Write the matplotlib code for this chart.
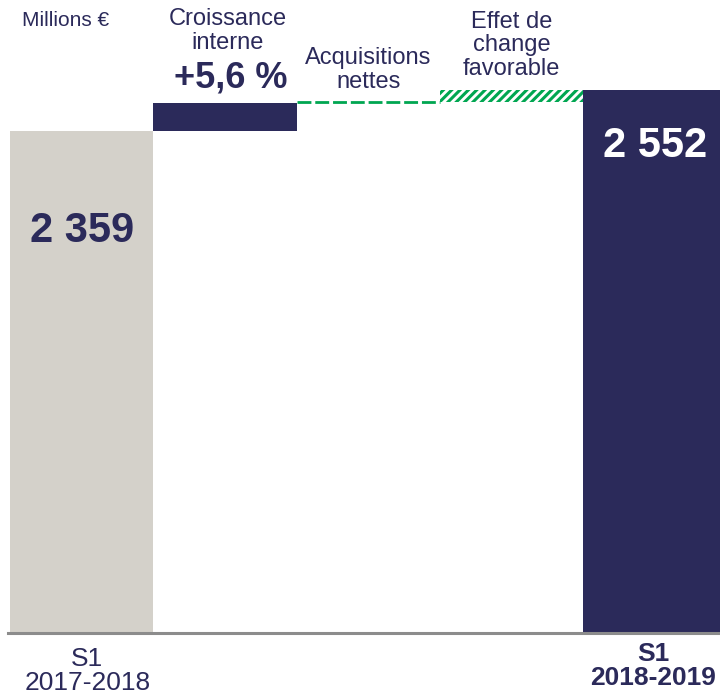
import matplotlib.pyplot as plt
import matplotlib.transforms as mtransforms
import numpy as np

plt.rcParams['font.family'] = ['Liberation Sans', 'DejaVu Sans']
plt.rcParams['hatch.linewidth'] = 2.2

# Data (millions EUR)
start_value = 2359
end_value = 2552
croissance = 132
acquisitions = 6
change = end_value - start_value - croissance - acquisitions

navy = '#2b2a5a'
grey = '#d4d1ca'
green = '#00a651'

fig = plt.figure(figsize=(7.2, 6.97), dpi=100)
ax = fig.add_axes([8/720, 64/697, 712/720, 633/697])

ind = np.arange(5)
width = 1.0
px_unit = 143.3

# first and last totals
ax.bar(ind[0], start_value, width, color=grey, linewidth=0)
ax.bar(ind[4], end_value, width, color=navy, linewidth=0)

# internal growth
ax.bar(ind[1], croissance, width, bottom=start_value, color=navy, linewidth=0)

# acquisitions: thin dashed line
acq_level = start_value + croissance + acquisitions / 2
ax.hlines(acq_level, ind[2] - width/2, ind[2] + width/2, colors=green,
          linewidth=2, linestyles=(0, (5, 1.4)))

# exchange effect, hatched
ax.bar(ind[3], change, width, bottom=start_value + croissance + acquisitions,
       facecolor='white', edgecolor=green, hatch='////', linewidth=0)

ax.set_xlim(-0.5 - 2/px_unit, -0.5 + 710/px_unit)
ax.set_ylim(0, 2975)
for s in ['top', 'right', 'left']:
    ax.spines[s].set_visible(False)
ax.spines['bottom'].set_color('#8c8c8c')
ax.spines['bottom'].set_linewidth(2.2)
ax.set_xticks([])
ax.set_yticks([])

# value labels inside the total bars
ax.text(ind[0], start_value * 0.8, '2 359', ha='center', va='center',
        fontsize=30, fontweight='bold', color=navy)
ax.text(ind[4], end_value - 262, '2 552', ha='center', va='center',
        fontsize=30, fontweight='bold', color='white')

# labels at the top
trans = mtransforms.blended_transform_factory(ax.transData, fig.transFigure)
H = 697.0
fig.text(22/720, 1 - 20/H, 'Millions €', ha='left', va='center',
         fontsize=15, color=navy)
ax.text(ind[1] + 0.02, 1 - 31/H, 'Croissance\ninterne', transform=trans,
        ha='center', va='center', fontsize=17, color=navy, linespacing=1.08)
ax.text(ind[1] + 0.04, 1 - 78/H, '+5,6 %', transform=trans,
        ha='center', va='center', fontsize=26, fontweight='bold', color=navy)
ax.text(ind[2], 1 - 70/H, 'Acquisitions\nnettes', transform=trans,
        ha='center', va='center', fontsize=17, color=navy, linespacing=1.08)
ax.text(ind[3], 1 - 45.5/H, 'Effet de\nchange\nfavorable', transform=trans,
        ha='center', va='center', fontsize=17, color=navy, linespacing=1.1)

# category labels below
ax.text(ind[0] + 0.04, 1 - 671/H, 'S1\n2017-2018', transform=trans,
        ha='center', va='center', fontsize=19, color=navy, linespacing=1.0)
ax.text(ind[4] - 0.01, 1 - 666/H, 'S1\n2018-2019', transform=trans,
        ha='center', va='center', fontsize=19, fontweight='bold', color=navy,
        linespacing=1.0)

fig.savefig('out.png', dpi=100)
